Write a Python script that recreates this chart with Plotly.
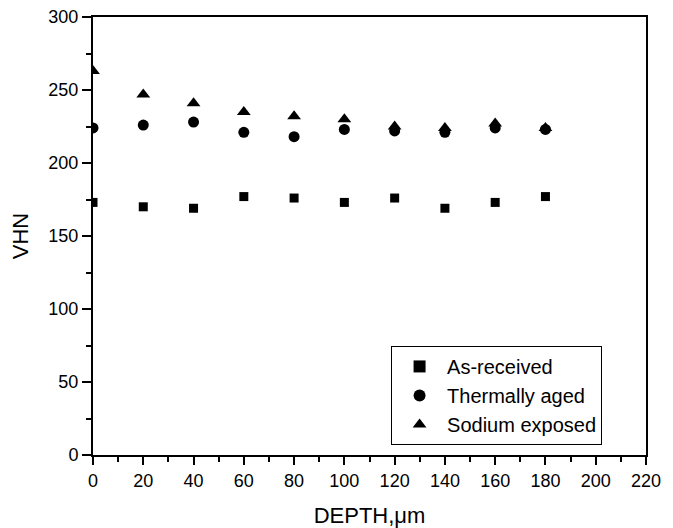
import plotly.graph_objects as go

depth = [0, 20, 40, 60, 80, 100, 120, 140, 160, 180]
as_received = [173, 170, 169, 177, 176, 173, 176, 169, 173, 177]
thermally_aged = [224, 226, 228, 221, 218, 223, 222, 221, 224, 223]
sodium_exposed = [263, 247, 241, 235, 232, 230, 225, 224, 227, 224]

series = [
    ("As-received", as_received, "square", 9),
    ("Thermally aged", thermally_aged, "circle", 11),
    ("Sodium exposed", sodium_exposed, "triangle-up", 12),
]

fig = go.Figure()
for name, vals, sym, sz in series:
    fig.add_trace(go.Scatter(
        x=depth, y=vals, mode="markers", name=name,
        marker=dict(symbol=sym, size=sz, color="black", line=dict(width=0)),
    ))

font = "Liberation Sans, Arial, sans-serif"
fig.update_layout(
    width=673, height=528,
    margin=dict(l=93, r=27, t=17, b=73),
    paper_bgcolor="white", plot_bgcolor="white",
    font=dict(family=font, size=18, color="black"),
    showlegend=True,
    legend=dict(
        x=0.539, y=0.023, xanchor="left", yanchor="bottom",
        bordercolor="black", borderwidth=1, bgcolor="white",
        font=dict(size=20, family=font), itemsizing="constant",
        itemwidth=45, tracegroupgap=0,
    ),
)
fig.update_xaxes(
    range=[0, 220], tickmode="linear", tick0=0, dtick=20,
    showgrid=False, zeroline=False, automargin=False,
    showline=True, linecolor="black", linewidth=2, mirror=True,
    ticks="outside", ticklen=8, tickwidth=2, tickcolor="black",
    minor=dict(dtick=10, ticks="outside", ticklen=5, tickwidth=2, tickcolor="black", showgrid=False),
    title=dict(text="DEPTH,μm", font=dict(size=22), standoff=19),
    tickfont=dict(size=18),
)
fig.update_yaxes(
    range=[0, 300], tickmode="linear", tick0=0, dtick=50,
    showgrid=False, zeroline=False, automargin=False,
    showline=True, linecolor="black", linewidth=2, mirror=True,
    ticks="outside", ticklen=9, tickwidth=2, tickcolor="black",
    minor=dict(dtick=25, ticks="outside", ticklen=5, tickwidth=2, tickcolor="black", showgrid=False),
    title=dict(text="VHN", font=dict(size=22), standoff=14),
    tickfont=dict(size=18),
)

fig.write_html(
    "out.html",
    config={"displayModeBar": False},
    post_script="document.body.style.margin='0';",
)
